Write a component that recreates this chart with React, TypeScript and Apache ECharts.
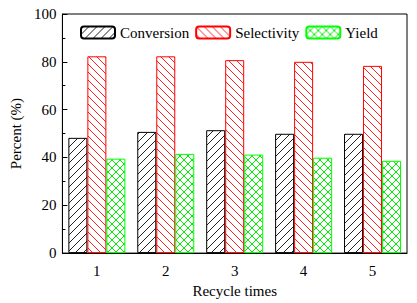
import React, { useEffect, useRef } from "react";
import * as echarts from "echarts";

const categories = ["1", "2", "3", "4", "5"];
const conversion = [48.2, 50.7, 51.4, 49.9, 49.9];
const selectivity = [82.3, 82.3, 80.7, 80.0, 78.3];
const yieldVals = [39.5, 41.5, 41.2, 39.9, 38.6];
const seriesNames = ["Conversion", "Selectivity", "Yield"];

function hatch(color: string, dirs: ("f" | "b")[]) {
  const s = 8;
  const c = document.createElement("canvas");
  c.width = s;
  c.height = s;
  const ctx = c.getContext("2d")!;
  ctx.fillStyle = "#fff";
  ctx.fillRect(0, 0, s, s);
  ctx.strokeStyle = color;
  ctx.lineWidth = 1;
  for (const d of dirs) {
    ctx.beginPath();
    if (d === "f") {
      for (const o of [-s, 0, s]) {
        ctx.moveTo(o - 1, s + 1);
        ctx.lineTo(o + s + 1, -1);
      }
    } else {
      for (const o of [-s, 0, s]) {
        ctx.moveTo(o - 1, -1);
        ctx.lineTo(o + s + 1, s + 1);
      }
    }
    ctx.stroke();
  }
  return { image: c, repeat: "repeat" } as any;
}

export default function App() {
  const ref = useRef<HTMLDivElement>(null);
  useEffect(() => {
    const chart = echarts.init(ref.current!, null, { renderer: "svg" });
    const font = "Times New Roman";
    const txt = { fontFamily: font, fontSize: 15, color: "#000", fontWeight: "normal" as const, fontStyle: "normal" as const };
    const mk = (name: string, data: number[], border: string, fill: any) => ({
      name,
      type: "bar",
      data,
      barWidth: 19,
      barGap: "0%",
      itemStyle: { color: fill, borderColor: border, borderWidth: 1 },
    });
    chart.setOption({
      animation: false,
      textStyle: txt,
      grid: {
        left: 55,
        right: 10,
        top: 14,
        bottom: 46,
        show: true,
        borderColor: "#000",
        borderWidth: 1,
      },
      legend: {
        top: 25,
        left: 80,
        padding: 0,
        itemWidth: 34,
        itemHeight: 12,
        itemGap: 6,
        textStyle: { ...txt },
        data: seriesNames,
      },
      xAxis: {
        type: "category",
        data: categories,
        name: "Recycle times",
        nameLocation: "middle",
        nameGap: 21,
        nameTextStyle: { ...txt },
        axisLine: { lineStyle: { color: "#000", width: 1 } },
        axisTick: { show: false },
        axisLabel: { ...txt, margin: 10 },
      },
      yAxis: {
        type: "value",
        min: 0,
        max: 100,
        interval: 20,
        name: "Percent (%)",
        nameLocation: "middle",
        nameGap: 30,
        nameTextStyle: { ...txt },
        axisLine: { show: true, lineStyle: { color: "#000", width: 1 } },
        axisTick: { show: true, inside: true, length: 5, lineStyle: { color: "#000" } },
        minorTick: { show: true, splitNumber: 2, length: 3, lineStyle: { color: "#000" } },
        splitLine: { show: false },
        axisLabel: { ...txt, margin: 6 },
      },
      series: [
        mk("Conversion", conversion, "#000", hatch("#222", ["f"])),
        mk("Selectivity", selectivity, "#ff0000", hatch("#ff2020", ["b"])),
        mk("Yield", yieldVals, "#00ff00", hatch("#00ee00", ["f", "b"])),
      ],
    });
    return () => chart.dispose();
  }, []);
  return (
    <div
      ref={ref}
      style={{ width: 417, height: 303, position: "absolute", left: 0, top: 0 }}
    />
  );
}
